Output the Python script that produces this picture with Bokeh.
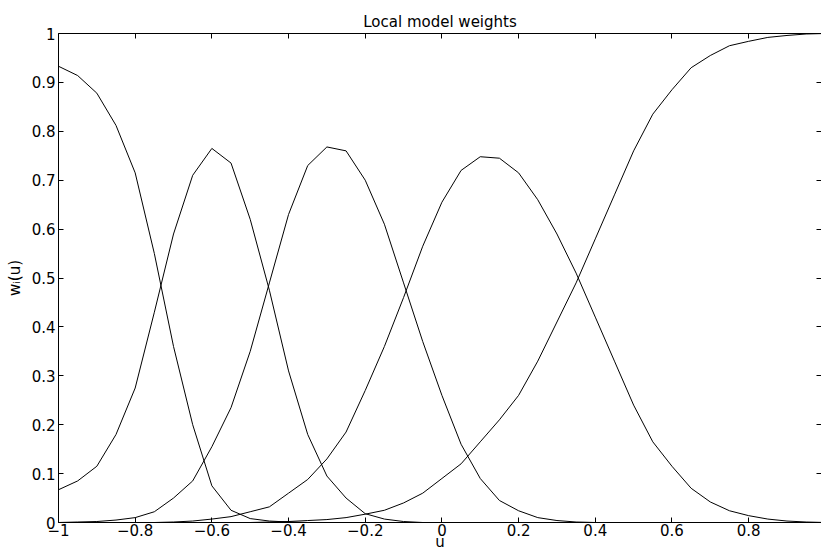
from bokeh.plotting import figure
from bokeh.models import LinearAxis, FixedTicker, CustomJSTickFormatter, Range1d
from bokeh.embed import file_html
from bokeh.resources import INLINE

# input grid u
u = [-1.00, -0.95, -0.90, -0.85, -0.80, -0.75, -0.70, -0.65, -0.60, -0.55,
     -0.50, -0.45, -0.40, -0.35, -0.30, -0.25, -0.20, -0.15, -0.10, -0.05,
     0.00, 0.05, 0.10, 0.15, 0.20, 0.25, 0.30, 0.35, 0.40, 0.45,
     0.50, 0.55, 0.60, 0.65, 0.70, 0.75, 0.80, 0.85, 0.90, 0.95, 1.00]

# validity function of each local model
w1 = [0.933, 0.914, 0.878, 0.812, 0.715, 0.550, 0.360, 0.200, 0.075, 0.025,
      0.008, 0.003, 0.001, 0.0, 0.0, 0.0, 0.0, 0.0, 0.0, 0.0,
      0.0, 0.0, 0.0, 0.0, 0.0, 0.0, 0.0, 0.0, 0.0, 0.0,
      0.0, 0.0, 0.0, 0.0, 0.0, 0.0, 0.0, 0.0, 0.0, 0.0, 0.0]
w2 = [0.067, 0.085, 0.115, 0.180, 0.275, 0.430, 0.590, 0.710, 0.765, 0.735,
      0.620, 0.475, 0.310, 0.180, 0.095, 0.050, 0.018, 0.007, 0.002, 0.0,
      0.0, 0.0, 0.0, 0.0, 0.0, 0.0, 0.0, 0.0, 0.0, 0.0,
      0.0, 0.0, 0.0, 0.0, 0.0, 0.0, 0.0, 0.0, 0.0, 0.0, 0.0]
w3 = [0.000, 0.001, 0.002, 0.005, 0.010, 0.022, 0.050, 0.085, 0.155, 0.235,
      0.350, 0.490, 0.630, 0.730, 0.768, 0.760, 0.700, 0.610, 0.490, 0.370,
      0.260, 0.160, 0.090, 0.045, 0.024, 0.010, 0.004, 0.001, 0.0, 0.0,
      0.0, 0.0, 0.0, 0.0, 0.0, 0.0, 0.0, 0.0, 0.0, 0.0, 0.0]
w4 = [0.0, 0.0, 0.0, 0.0, 0.0, 0.0, 0.001, 0.003, 0.007, 0.012,
      0.022, 0.032, 0.060, 0.088, 0.130, 0.185, 0.270, 0.360, 0.460, 0.565,
      0.655, 0.720, 0.748, 0.745, 0.715, 0.660, 0.590, 0.510, 0.420, 0.330,
      0.240, 0.165, 0.115, 0.070, 0.042, 0.024, 0.014, 0.007, 0.003, 0.001, 0.0]
w5 = [0.0, 0.0, 0.0, 0.0, 0.0, 0.0, 0.0, 0.0, 0.0, 0.0,
      0.0, 0.001, 0.002, 0.004, 0.006, 0.010, 0.017, 0.025, 0.040, 0.060,
      0.090, 0.120, 0.165, 0.210, 0.260, 0.330, 0.410, 0.490, 0.580, 0.670,
      0.760, 0.835, 0.885, 0.930, 0.955, 0.975, 0.984, 0.992, 0.996, 0.999, 1.0]

x_ticks = [-1.0, -0.8, -0.6, -0.4, -0.2, 0.0, 0.2, 0.4, 0.6, 0.8, 1.0]
y_ticks = [0.0, 0.1, 0.2, 0.3, 0.4, 0.5, 0.6, 0.7, 0.8, 0.9, 1.0]

FONT = "DejaVu Sans"
SIZE = "15px"

p = figure(width=821, height=555, output_backend="svg", toolbar_location=None,
           x_range=Range1d(-1.0, 0.99), y_range=Range1d(0.0, 1.0),
           min_border_left=58, min_border_right=0, min_border_top=33,
           min_border_bottom=33, x_axis_location=None, y_axis_location=None)
p.title.text = "Local model weights"
p.title.align = "center"
p.title.offset = 2
p.title.text_font = FONT
p.title.text_font_size = SIZE
p.title.text_font_style = "normal"
p.title.text_color = "black"
p.title.standoff = 6
p.outline_line_color = None
p.xgrid.visible = False
p.ygrid.visible = False
p.background_fill_color = "white"
p.border_fill_color = "white"

fmt = CustomJSTickFormatter(code="""
const v = Math.round(tick * 10) / 10;
if (v === 0) return "0";
return (v < 0 ? "\u2212" : "") + String(Math.abs(v));
""")
blank = CustomJSTickFormatter(code="return '';")


def style_axis(ax, labels=True):
    ax.major_tick_in = 5
    ax.major_tick_out = 0
    ax.minor_tick_line_color = None
    ax.axis_line_color = "black"
    ax.major_tick_line_color = "black"
    ax.major_label_text_font = FONT
    ax.major_label_text_font_size = SIZE
    ax.major_label_text_color = "black"
    ax.axis_label_text_font = FONT
    ax.axis_label_text_font_size = SIZE
    ax.axis_label_text_font_style = "normal"
    ax.axis_label_text_color = "black"
    if not labels:
        ax.formatter = blank
        ax.major_label_standoff = 0


bottom = LinearAxis(ticker=FixedTicker(ticks=x_ticks), formatter=fmt, axis_label="u")
style_axis(bottom)
bottom.major_label_standoff = 1
bottom.axis_label_standoff = -6
p.add_layout(bottom, "below")

top = LinearAxis(ticker=FixedTicker(ticks=x_ticks))
style_axis(top, labels=False)
p.add_layout(top, "above")

left = LinearAxis(ticker=FixedTicker(ticks=y_ticks), formatter=fmt, axis_label="wᵢ(u)")
style_axis(left)
left.major_label_standoff = 3
left.axis_label_standoff = 5
p.add_layout(left, "left")

right = LinearAxis(ticker=FixedTicker(ticks=y_ticks))
style_axis(right, labels=False)
right.axis_line_color = None
p.add_layout(right, "right")

for w in (w1, w2, w3, w4, w5):
    p.line(u, w, line_color="black", line_width=1)

open("out.html", "w").write(file_html(p, INLINE))
